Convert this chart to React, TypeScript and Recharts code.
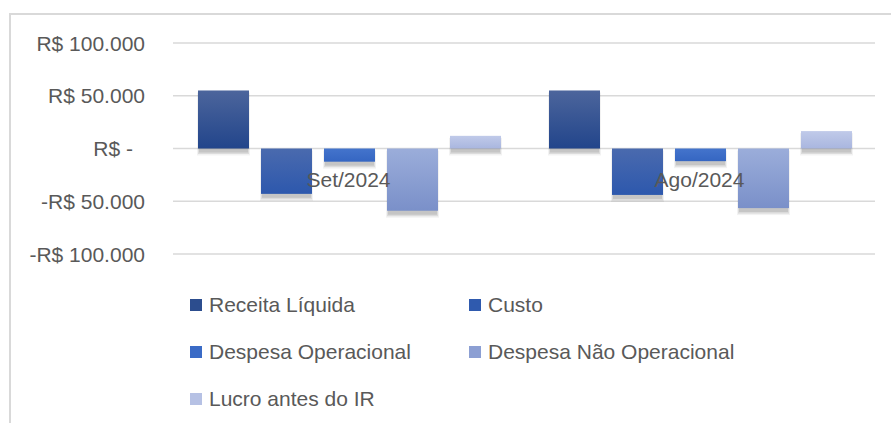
import React from 'react';
import { BarChart, Bar, XAxis, YAxis, CartesianGrid, ReferenceDot } from 'recharts';

const categories = ['Set/2024', 'Ago/2024'];
const receitaLiquida = [55000, 55000];
const custo = [-43000, -44000];
const despesaOperacional = [-12500, -12000];
const despesaNaoOperacional = [-59000, -56500];
const lucroAntesIR = [12000, 16500];
const yTicks = [-100000, -50000, 0, 50000, 100000];

const series = [
  { key: 'receita', name: 'Receita Líquida', values: receitaLiquida, top: '#4c659c', bottom: '#22458b', swatch: '#2c4d8e' },
  { key: 'custo', name: 'Custo', values: custo, top: '#4a6aae', bottom: '#2d58ad', swatch: '#2f5aae' },
  { key: 'despOp', name: 'Despesa Operacional', values: despesaOperacional, top: '#4474cc', bottom: '#3566c2', swatch: '#3a6bc6' },
  { key: 'despNaoOp', name: 'Despesa Não Operacional', values: despesaNaoOperacional, top: '#9badda', bottom: '#7a90c9', swatch: '#8c9fd3' },
  { key: 'lucro', name: 'Lucro antes do IR', values: lucroAntesIR, top: '#c0cae9', bottom: '#a9b6df', swatch: '#b6c1e4' },
];

const data = categories.map((c, i) => {
  const row: any = { cat: c };
  series.forEach((s) => { row[s.key] = s.values[i]; });
  return row;
});

const FONT = '"Liberation Sans", Arial, sans-serif';
const TEXT = '#595959';

const fmt = (v: number) => {
  if (v === 0) return 'R$ -';
  const s = String(Math.abs(v)).replace(/\B(?=(\d{3})+(?!\d))/g, '.');
  return (v < 0 ? '-' : '') + 'R$ ' + s;
};

const YTick = (props: any) => {
  const { x, y, payload } = props;
  const v = payload.value;
  return (
    <text x={v === 0 ? x - 12 : x} y={y} dy="0.36em" textAnchor="end" fill={TEXT} fontSize={21} fontFamily={FONT}>
      {fmt(v)}
    </text>
  );
};

const CatLabel = (cat: string) => (props: any) => {
  const vb = props.viewBox || {};
  const cx = (vb.x || 0) + (vb.width || 0) / 2;
  const cy = (vb.y || 0) + (vb.height || 0) / 2;
  return (
    <text x={cx} y={cy + 38.5} textAnchor="middle" fill={TEXT} fontSize={21} fontFamily={FONT}>
      {cat}
    </text>
  );
};

const ShadowBar = (props: any) => {
  const { x, y, width, height, fill } = props;
  const top = Math.min(y, y + height);
  const h = Math.abs(height);
  return (
    <g>
      <rect x={x - 1} y={top + 2} width={width + 2} height={h + 5} fill="#000" fillOpacity={0.05} />
      <rect x={x} y={top + 2} width={width} height={h + 3.5} fill="#000" fillOpacity={0.09} />
      <rect x={x + 1} y={top + 2} width={width - 2} height={h + 2} fill="#000" fillOpacity={0.1} />
      <rect x={x} y={top} width={width} height={h} fill={fill} />
    </g>
  );
};

export default function App() {
  return (
    <div style={{ position: 'absolute', left: 0, top: 0, width: 891, height: 423, overflow: 'hidden', background: '#fff' }}>
      <div style={{ position: 'absolute', left: 9, top: 13, width: 900, height: 440, border: '2px solid #d9d9d9', boxSizing: 'border-box' }} />
      <div style={{ position: 'absolute', left: 0, top: 0 }}>
        <BarChart
          width={891}
          height={423}
          data={data}
          margin={{ top: 43, right: 16, bottom: 169, left: 0 }}
          barCategoryGap={25}
          barGap={12}
        >
          <defs>
            {series.map((s) => (
              <linearGradient key={s.key} id={'g-' + s.key} x1="0" y1="0" x2="0" y2="1">
                <stop offset="0%" stopColor={s.top} />
                <stop offset="100%" stopColor={s.bottom} />
              </linearGradient>
            ))}
          </defs>
          <CartesianGrid vertical={false} stroke="#d9d9d9" strokeWidth={1.5} />
          <XAxis dataKey="cat" hide />
          <YAxis
            domain={[-100000, 100000]}
            ticks={yTicks}
            width={173}
            axisLine={false}
            tickLine={false}
            tickSize={0}
            tickMargin={28}
            tick={<YTick />}
            interval={0}
          />
          {series.map((s) => (
            <Bar
              key={s.key}
              dataKey={s.key}
              name={s.name}
              fill={'url(#g-' + s.key + ')'}
              shape={ShadowBar}
              isAnimationActive={false}
            />
          ))}
          {categories.map((c) => (
            <ReferenceDot key={c} x={c} y={0} r={0} fill="none" stroke="none" label={CatLabel(c)} />
          ))}
        </BarChart>
      </div>
      {series.map((s, i) => {
        const col = i % 2;
        const row = Math.floor(i / 2);
        return (
          <div
            key={s.key}
            style={{
              position: 'absolute',
              left: col === 0 ? 190 : 469,
              top: 305 + row * 47 - 13,
              height: 26,
              display: 'flex',
              alignItems: 'center',
              fontFamily: FONT,
              fontSize: 21,
              color: TEXT,
              whiteSpace: 'nowrap',
            }}
          >
            <span style={{ display: 'inline-block', width: 12, height: 12, background: s.swatch, marginRight: 7 }} />
            <span>{s.name}</span>
          </div>
        );
      })}
    </div>
  );
}
